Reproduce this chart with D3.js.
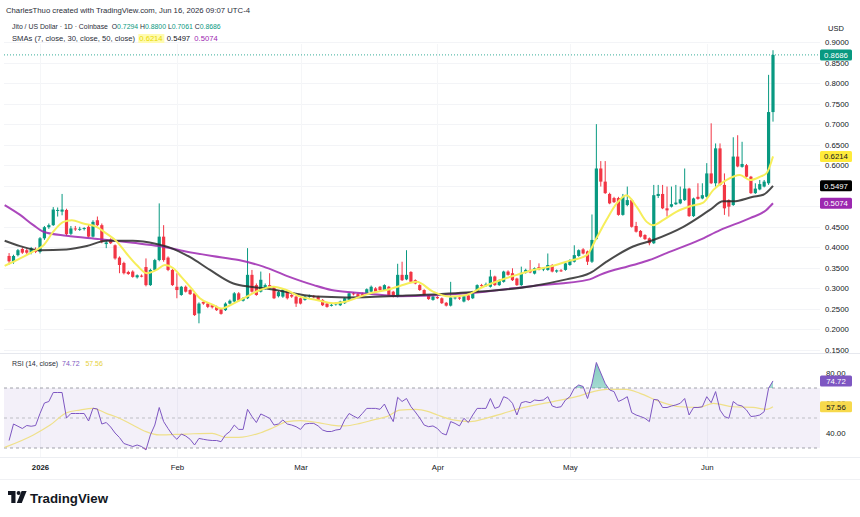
<!DOCTYPE html>
<html lang="en">
<meta charset="utf-8">
<head>
<script src="https://d3js.org/d3.v7.min.js"></script>
<style>
  body { margin: 0; background: #fff; }
  text { font-family: "Liberation Sans", Arial, sans-serif; }
</style>
</head>
<body>
<div id="chart"></div>
<script>

// JTO/USD daily bars. Day numbers count from 2026-01-01 (day 0); first bar is Dec 25 2025.
var firstBarDay = -7;

var opens = [
  0.379, 0.364, 0.381, 0.396, 0.393, 0.387, 0.395,
  0.389, 0.422, 0.449, 0.454, 0.490, 0.487, 0.491, 0.433, 0.446, 0.444,
  0.445, 0.450, 0.426, 0.466, 0.454, 0.408, 0.419, 0.405, 0.375, 0.362,
  0.340, 0.341, 0.327, 0.331, 0.352, 0.308, 0.345, 0.369, 0.426, 0.375,
  0.345, 0.304, 0.284, 0.304, 0.296, 0.288, 0.239, 0.267, 0.263, 0.259,
  0.255, 0.249, 0.247, 0.263, 0.268, 0.288, 0.270, 0.276, 0.333, 0.308,
  0.292, 0.300, 0.308, 0.304, 0.281, 0.280, 0.292, 0.284, 0.280, 0.276,
  0.272, 0.280, 0.281, 0.280, 0.272, 0.263, 0.259, 0.261, 0.259, 0.264,
  0.272, 0.288, 0.286, 0.286, 0.288, 0.292, 0.300, 0.304, 0.296, 0.304,
  0.292, 0.280, 0.333, 0.322, 0.340, 0.320, 0.308, 0.296, 0.282, 0.272,
  0.279, 0.276, 0.265, 0.258, 0.276, 0.278, 0.268, 0.283, 0.276, 0.292,
  0.308, 0.306, 0.304, 0.329, 0.308, 0.316, 0.341, 0.337, 0.324, 0.308,
  0.338, 0.345, 0.336, 0.352, 0.346, 0.345, 0.357, 0.341, 0.344, 0.345,
  0.357, 0.365, 0.379, 0.395, 0.390, 0.365, 0.420, 0.592, 0.560, 0.530,
  0.520, 0.520, 0.479, 0.503, 0.515, 0.452, 0.440, 0.430, 0.422, 0.410,
  0.525, 0.530, 0.495, 0.499, 0.505, 0.507, 0.515, 0.543, 0.476, 0.523,
  0.519, 0.523, 0.580, 0.556, 0.641, 0.552, 0.515, 0.503, 0.621, 0.596,
  0.600, 0.572, 0.532, 0.541, 0.548, 0.556, 0.7294
];
var highs = [
  0.386, 0.382, 0.396, 0.400, 0.397, 0.401, 0.400,
  0.425, 0.452, 0.458, 0.498, 0.497, 0.530, 0.494, 0.452, 0.452, 0.450,
  0.449, 0.455, 0.466, 0.475, 0.458, 0.416, 0.422, 0.407, 0.378, 0.365,
  0.343, 0.344, 0.334, 0.334, 0.373, 0.348, 0.372, 0.507, 0.454, 0.378,
  0.347, 0.337, 0.306, 0.307, 0.298, 0.290, 0.266, 0.270, 0.266, 0.261,
  0.258, 0.251, 0.266, 0.273, 0.291, 0.291, 0.279, 0.398, 0.345, 0.312,
  0.341, 0.312, 0.337, 0.306, 0.294, 0.300, 0.294, 0.286, 0.282, 0.278,
  0.283, 0.285, 0.284, 0.282, 0.274, 0.265, 0.263, 0.266, 0.270, 0.278,
  0.291, 0.291, 0.289, 0.290, 0.300, 0.307, 0.303, 0.306, 0.310, 0.306,
  0.294, 0.360, 0.365, 0.393, 0.342, 0.322, 0.310, 0.298, 0.284, 0.282,
  0.281, 0.278, 0.267, 0.316, 0.281, 0.280, 0.283, 0.285, 0.294, 0.310,
  0.311, 0.314, 0.345, 0.331, 0.322, 0.343, 0.344, 0.349, 0.326, 0.353,
  0.348, 0.369, 0.351, 0.361, 0.352, 0.385, 0.359, 0.346, 0.347, 0.363,
  0.371, 0.405, 0.395, 0.398, 0.392, 0.480, 0.700, 0.610, 0.610, 0.533,
  0.523, 0.523, 0.530, 0.548, 0.518, 0.462, 0.442, 0.432, 0.424, 0.552,
  0.552, 0.552, 0.548, 0.548, 0.552, 0.548, 0.592, 0.545, 0.521, 0.556,
  0.556, 0.605, 0.702, 0.653, 0.653, 0.580, 0.517, 0.668, 0.673, 0.657,
  0.603, 0.574, 0.556, 0.564, 0.564, 0.820, 0.8800
];
var lows = [
  0.358, 0.360, 0.378, 0.384, 0.384, 0.383, 0.386,
  0.385, 0.418, 0.445, 0.452, 0.475, 0.478, 0.428, 0.430, 0.440, 0.440,
  0.441, 0.424, 0.424, 0.452, 0.410, 0.398, 0.408, 0.370, 0.337, 0.334,
  0.333, 0.326, 0.324, 0.327, 0.305, 0.306, 0.343, 0.366, 0.365, 0.342,
  0.306, 0.276, 0.282, 0.290, 0.284, 0.233, 0.215, 0.260, 0.252, 0.251,
  0.245, 0.236, 0.245, 0.261, 0.266, 0.268, 0.268, 0.274, 0.290, 0.282,
  0.290, 0.297, 0.301, 0.274, 0.278, 0.277, 0.273, 0.277, 0.255, 0.261,
  0.270, 0.277, 0.276, 0.270, 0.257, 0.253, 0.256, 0.258, 0.257, 0.262,
  0.270, 0.283, 0.278, 0.278, 0.286, 0.290, 0.290, 0.294, 0.294, 0.282,
  0.278, 0.278, 0.318, 0.320, 0.314, 0.310, 0.294, 0.282, 0.272, 0.270,
  0.274, 0.262, 0.256, 0.256, 0.273, 0.272, 0.266, 0.270, 0.274, 0.290,
  0.304, 0.304, 0.302, 0.306, 0.306, 0.314, 0.331, 0.318, 0.306, 0.306,
  0.336, 0.337, 0.334, 0.344, 0.342, 0.343, 0.339, 0.338, 0.340, 0.343,
  0.355, 0.363, 0.377, 0.383, 0.357, 0.362, 0.418, 0.548, 0.530, 0.505,
  0.508, 0.477, 0.477, 0.500, 0.448, 0.436, 0.424, 0.418, 0.405, 0.408,
  0.520, 0.493, 0.475, 0.497, 0.503, 0.505, 0.513, 0.474, 0.474, 0.516,
  0.517, 0.521, 0.554, 0.548, 0.550, 0.479, 0.475, 0.501, 0.595, 0.594,
  0.570, 0.530, 0.530, 0.539, 0.546, 0.552, 0.7061
];
var closes = [
  0.366, 0.379, 0.393, 0.387, 0.387, 0.398, 0.389,
  0.422, 0.449, 0.454, 0.492, 0.491, 0.492, 0.432, 0.446, 0.444, 0.445,
  0.447, 0.426, 0.462, 0.454, 0.414, 0.412, 0.410, 0.373, 0.357, 0.337,
  0.335, 0.328, 0.332, 0.330, 0.308, 0.345, 0.369, 0.426, 0.369, 0.345,
  0.308, 0.296, 0.304, 0.292, 0.286, 0.235, 0.263, 0.263, 0.255, 0.254,
  0.247, 0.238, 0.263, 0.270, 0.288, 0.270, 0.276, 0.333, 0.292, 0.284,
  0.321, 0.308, 0.304, 0.276, 0.291, 0.297, 0.276, 0.280, 0.263, 0.263,
  0.280, 0.282, 0.279, 0.272, 0.259, 0.255, 0.260, 0.264, 0.268, 0.276,
  0.288, 0.286, 0.280, 0.280, 0.298, 0.304, 0.292, 0.296, 0.308, 0.284,
  0.280, 0.333, 0.320, 0.333, 0.316, 0.312, 0.296, 0.284, 0.274, 0.280,
  0.276, 0.264, 0.258, 0.278, 0.278, 0.275, 0.281, 0.272, 0.292, 0.308,
  0.306, 0.310, 0.329, 0.308, 0.320, 0.341, 0.333, 0.320, 0.308, 0.338,
  0.345, 0.339, 0.349, 0.346, 0.350, 0.357, 0.341, 0.344, 0.342, 0.361,
  0.369, 0.381, 0.393, 0.385, 0.365, 0.418, 0.592, 0.560, 0.532, 0.507,
  0.510, 0.479, 0.523, 0.515, 0.450, 0.438, 0.426, 0.420, 0.410, 0.527,
  0.530, 0.495, 0.490, 0.505, 0.509, 0.517, 0.543, 0.476, 0.519, 0.518,
  0.527, 0.580, 0.556, 0.641, 0.552, 0.495, 0.499, 0.621, 0.597, 0.603,
  0.572, 0.532, 0.543, 0.554, 0.560, 0.7294, 0.8686
];

// RSI(14) per bar, same order as the candles
var rsi = [
  35, 46, 44.5, 43, 45, 44.5, 45,
  53, 60, 61, 67, 67, 67, 50, 53, 53, 53,
  53, 48, 56.5, 56, 46, 47, 44, 40, 37, 33,
  32, 31, 32, 31, 28.7, 38.7, 45.3, 57, 47.6, 43,
  38.7, 35.8, 39.3, 38, 35.8, 32, 36.4, 35.8, 35.3, 35,
  35, 34.2, 38.7, 41, 45.3, 42.4, 42.4, 55.8, 51, 47,
  52.7, 51.3, 49.8, 45.3, 46, 48.7, 46, 45.3, 44.2, 42.4,
  46, 46.4, 46.4, 44.7, 42, 41, 41, 42, 42.4, 48.7,
  53, 51.3, 49.8, 53, 56.4, 56.4, 56.4, 55.8, 59.3, 53,
  47.6, 63.8, 61, 63, 57.6, 54, 50, 45.3, 44.2, 44.7,
  43, 39.8, 38.7, 47.6, 46.4, 44.7, 49.8, 47, 52, 56.4,
  56.4, 56.4, 63, 56.4, 57.5, 64.2, 63, 59.8, 52, 60.2,
  61, 60.2, 62, 61.6, 62, 64.2, 58, 57, 57.5, 62,
  64.2, 69.8, 72, 71, 63, 73, 87, 80, 73, 68.7,
  67.6, 61, 62.4, 64.2, 53.6, 52, 51, 49.8, 47.6, 62.4,
  62, 57, 57, 58, 58.7, 59.8, 63, 52, 57, 57,
  57.5, 64.2, 60.2, 67.6, 55.3, 51, 49.8, 61, 58.7, 58,
  55.3, 51, 51.3, 52, 54.2, 69.8, 74.72
];

// moving averages: [day, value]
var sma7 = [[-8,0.355],[-4.5,0.373],[-1.5,0.39],[0.8,0.405],[3,0.438],[5.3,0.462],[7.2,0.466],[9.8,0.458],
  [12.8,0.45],[15,0.434],[17.4,0.414],[19.6,0.385],[21.9,0.357],[24.2,0.337],[26.4,0.345],[28.3,0.357],
  [30.2,0.349],[32,0.328],[34.3,0.3],[36.2,0.276],[39.2,0.26],[41,0.251],[43.8,0.263],[46.8,0.28],
  [49.8,0.296],[52.8,0.304],[55.8,0.296],[58.9,0.28],[62.6,0.272],[66.4,0.264],[69.4,0.268],[72.5,0.28],
  [75.5,0.29],[78.5,0.296],[81.5,0.306],[85.3,0.316],[89,0.292],[92.8,0.28],[96.6,0.284],[100.4,0.304],
  [104.2,0.32],[108,0.333],[111.7,0.345],[115.5,0.353],[119.2,0.365],[123.8,0.381],[126,0.422],
  [128.3,0.467],[130.6,0.507],[132.8,0.527],[135.1,0.499],[137.4,0.462],[138.9,0.454],[141.2,0.467],
  [144.2,0.487],[147.2,0.5],[150.2,0.509],[152.5,0.54],[155.5,0.564],[158.5,0.576],[160.8,0.564],
  [163.1,0.572],[164.5,0.58],[166,0.6214]];
var sma30 = [[-8,0.416],[-4.5,0.403],[0,0.393],[6,0.395],[10.6,0.403],[15,0.416],[21,0.416],[26.4,0.408],
  [30,0.397],[34,0.376],[38.5,0.345],[43.8,0.312],[47.5,0.304],[51.3,0.3],[57.4,0.288],[62.6,0.28],
  [69.4,0.278],[81.5,0.282],[96.6,0.29],[111.7,0.306],[119.2,0.322],[124.5,0.337],[128.3,0.365],
  [134.3,0.402],[138.9,0.418],[145.7,0.45],[151.7,0.491],[154.7,0.512],[157,0.512],[161.5,0.523],
  [163.8,0.528],[166,0.5497]];
var sma50 = [[-8,0.503],[-4.5,0.479],[-1.5,0.454],[0.8,0.438],[6,0.428],[13.6,0.42],[21,0.411],[27,0.403],
  [33,0.39],[39,0.379],[45,0.369],[50.6,0.353],[56,0.33],[62,0.308],[66,0.296],[71,0.29],[75.5,0.286],
  [81.5,0.281],[96.6,0.288],[111.7,0.306],[124.5,0.322],[126.8,0.333],[134.3,0.357],[138,0.369],
  [141.9,0.386],[149.4,0.418],[154,0.442],[160.8,0.471],[164.5,0.491],[166,0.5074]];
var rsiMa = [[-8,30.4],[-1.5,38.7],[2.3,45.3],[6,53.5],[9,55.3],[12,56.4],[15,53.1],[18,49.8],[21,45.3],
  [24,40.9],[27,38.7],[33,39.3],[39,39.8],[42,37.1],[45,37.1],[50,40.2],[53,43.8],[56,47.6],[59,48.2],
  [63,46.9],[66,45.3],[69,44.7],[72.5,46.4],[75.5,48.7],[78.5,50.9],[81.5,55.3],[85,55.8],[88,54.2],
  [90,52],[93.6,48.7],[97.4,47.6],[101,49.8],[104.9,53.1],[108.7,56.4],[116.2,60.9],[121.5,64.2],
  [125.3,67.6],[128.3,69.1],[132.8,69.1],[135.9,66.4],[140.4,60.9],[144.9,57.5],[149.4,57.1],
  [152.5,59.8],[157,57.5],[161.5,57.1],[164.5,55.8],[166,57.56]];

// 0.50 and 0.55 sit under the SMA tags, so the reference shows no label there
var priceTicks = [0.15,0.20,0.25,0.30,0.35,0.40,0.45,0.60,0.65,0.70,0.75,0.80,0.85,0.90];
var gridTicks = [0.15,0.20,0.25,0.30,0.35,0.40,0.45,0.50,0.55,0.60,0.65,0.70,0.75,0.80,0.85,0.90];
var rsiTicks = [40, 60, 80];
var monthDays = [0, 31, 59, 90, 120, 151];
var monthLabels = ["2026", "Feb", "Mar", "Apr", "May", "Jun"];

var lastClose = 0.8686;
var lastSma = [0.6214, 0.5497, 0.5074];
var lastRsi = [74.72, 57.56];

var UP = "#089981", DOWN = "#f23645";

function day(i){ return new Date(Date.UTC(2026, 0, 1) + i * 864e5); }

var svg = d3.select("#chart").append("svg")
    .attr("width", 860).attr("height", 517)
    .style("display", "block");
svg.append("rect").attr("width", 860).attr("height", 517).attr("fill", "#fff");

var x = d3.scaleUtc().domain([day(0), day(166)]).range([40, 773]);
var y = d3.scaleLinear().domain([0.15, 0.90]).range([350, 42]);
var ry = d3.scaleLinear().domain([30, 70]).range([448, 388]);

var defs = svg.append("defs");
defs.append("clipPath").attr("id", "pricePane").append("rect")
    .attr("x", 4).attr("y", 44).attr("width", 816).attr("height", 308);
defs.append("clipPath").attr("id", "rsiPane").append("rect")
    .attr("x", 4).attr("y", 355).attr("width", 816).attr("height", 102);
defs.append("clipPath").attr("id", "overbought").append("rect")
    .attr("x", 4).attr("y", 355).attr("width", 816).attr("height", ry(70) - 355);
defs.append("clipPath").attr("id", "oversold").append("rect")
    .attr("x", 4).attr("y", ry(30)).attr("width", 816).attr("height", 457 - ry(30));
var gUp = defs.append("linearGradient").attr("id", "obFill").attr("x1", 0).attr("x2", 0).attr("y1", 0).attr("y2", 1);
gUp.append("stop").attr("offset", "0%").attr("stop-color", "#089981").attr("stop-opacity", 0.5);
gUp.append("stop").attr("offset", "100%").attr("stop-color", "#089981").attr("stop-opacity", 0.05);
var gDn = defs.append("linearGradient").attr("id", "osFill").attr("x1", 0).attr("x2", 0).attr("y1", 0).attr("y2", 1);
gDn.append("stop").attr("offset", "0%").attr("stop-color", "#f23645").attr("stop-opacity", 0.05);
gDn.append("stop").attr("offset", "100%").attr("stop-color", "#f23645").attr("stop-opacity", 0.5);

// grid
svg.append("g").selectAll("line").data(gridTicks).join("line")
    .attr("x1", 4).attr("x2", 820)
    .attr("y1", d => Math.round(y(d)) + 0.5).attr("y2", d => Math.round(y(d)) + 0.5)
    .attr("stroke", "#f3f4f7");
svg.append("g").selectAll("line").data(monthDays).join("line")
    .attr("x1", d => Math.round(x(day(d))) + 0.5).attr("x2", d => Math.round(x(day(d))) + 0.5)
    .attr("y1", 44).attr("y2", 457)
    .attr("stroke", "#f5f6f8");

// pane separators
svg.append("line").attr("x1", 0).attr("x2", 860).attr("y1", 353.5).attr("y2", 353.5).attr("stroke", "#e6e8ee");
svg.append("line").attr("x1", 0).attr("x2", 860).attr("y1", 457.5).attr("y2", 457.5).attr("stroke", "#eceef2");
svg.append("line").attr("x1", 0).attr("x2", 860).attr("y1", 479.5).attr("y2", 479.5).attr("stroke", "#f0f1f4");

// ---- price pane ----
var pane = svg.append("g").attr("clip-path", "url(#pricePane)");
var bars = closes.map(function(c, k){
  return { t: day(firstBarDay + k), o: opens[k], h: highs[k], l: lows[k], c: c };
});

pane.append("line")
    .attr("x1", 4).attr("x2", 820)
    .attr("y1", y(lastClose)).attr("y2", y(lastClose))
    .attr("stroke", UP).attr("stroke-opacity", 0.8).attr("stroke-dasharray", "1,2");

pane.append("g").selectAll("line").data(bars).join("line")
    .attr("x1", d => x(d.t)).attr("x2", d => x(d.t))
    .attr("y1", d => y(d.h)).attr("y2", d => y(d.l))
    .attr("stroke", d => d.c >= d.o ? UP : DOWN)
    .attr("stroke-width", 1);
pane.append("g").selectAll("rect").data(bars).join("rect")
    .attr("x", d => x(d.t) - 1.6)
    .attr("width", 3.2)
    .attr("y", d => y(Math.max(d.o, d.c)))
    .attr("height", d => Math.max(1, Math.abs(y(d.o) - y(d.c))))
    .attr("fill", d => d.c >= d.o ? UP : DOWN);

var maLine = d3.line().x(d => x(day(d[0]))).y(d => y(d[1])).curve(d3.curveMonotoneX);
pane.append("path").datum(sma50).attr("d", maLine)
    .attr("fill", "none").attr("stroke", "#9c27b0").attr("stroke-width", 2).attr("stroke-opacity", 0.85);
pane.append("path").datum(sma30).attr("d", maLine)
    .attr("fill", "none").attr("stroke", "#2a2a2a").attr("stroke-width", 2).attr("stroke-opacity", 0.85);
pane.append("path").datum(sma7).attr("d", maLine)
    .attr("fill", "none").attr("stroke", "#f6ee5a").attr("stroke-width", 2);

// ---- RSI pane ----
var rp = svg.append("g").attr("clip-path", "url(#rsiPane)");
rp.append("rect").attr("x", 4).attr("width", 816)
    .attr("y", ry(70)).attr("height", ry(30) - ry(70))
    .attr("fill", "#7e57c2").attr("fill-opacity", 0.09);
rp.selectAll("line.lvl").data([70, 50, 30]).join("line")
    .attr("x1", 4).attr("x2", 820)
    .attr("y1", d => ry(d)).attr("y2", d => ry(d))
    .attr("stroke", "#8a8d96").attr("stroke-opacity", d => d === 50 ? 0.5 : 0.8)
    .attr("stroke-dasharray", "3,3");

var rsiPts = rsi.map((v, k) => [firstBarDay + k, v]);
rp.append("path").datum(rsiPts)
    .attr("clip-path", "url(#overbought)")
    .attr("d", d3.area().x(d => x(day(d[0]))).y0(ry(70)).y1(d => ry(d[1])))
    .attr("fill", "url(#obFill)");
rp.append("path").datum(rsiPts)
    .attr("clip-path", "url(#oversold)")
    .attr("d", d3.area().x(d => x(day(d[0]))).y0(ry(30)).y1(d => ry(d[1])))
    .attr("fill", "url(#osFill)");
rp.append("path").datum(rsiMa)
    .attr("d", d3.line().x(d => x(day(d[0]))).y(d => ry(d[1])).curve(d3.curveMonotoneX))
    .attr("fill", "none").attr("stroke", "#efe08a").attr("stroke-width", 1.2);
rp.append("path").datum(rsiPts)
    .attr("d", d3.line().x(d => x(day(d[0]))).y(d => ry(d[1])))
    .attr("fill", "none").attr("stroke", "#7e57c2").attr("stroke-width", 1);

// ---- axes ----
function styleAxis(g, size){
  g.select(".domain").remove();
  g.selectAll("text").attr("fill", "#131722").style("font-size", size + "px");
}
svg.append("g").attr("transform", "translate(825,0)")
    .call(d3.axisRight(y).tickValues(priceTicks).tickFormat(d3.format(".4f")).tickSize(0).tickPadding(0))
    .call(g => styleAxis(g, 7.8));
svg.append("g").attr("transform", "translate(825,0)")
    .call(d3.axisRight(ry).tickValues(rsiTicks).tickFormat(d3.format(".2f")).tickSize(0).tickPadding(1))
    .call(g => styleAxis(g, 7.8));
svg.append("g").attr("transform", "translate(0,461)")
    .call(d3.axisBottom(x).tickValues(monthDays.map(day)).tickFormat((d, k) => monthLabels[k]).tickSize(0).tickPadding(3))
    .call(g => styleAxis(g, 7.8))
    .call(g => g.selectAll("text").filter((d, k) => k === 0).attr("font-weight", "bold"));

svg.append("text").attr("x", 836).attr("y", 31).attr("text-anchor", "middle")
    .attr("fill", "#131722").style("font-size", "7.5px").text("USD");

// value tags on the price scale
function tag(yy, label, bg, fg){
  var g = svg.append("g").attr("transform", "translate(820," + yy + ")");
  g.append("rect").attr("x", 0).attr("y", -5.5).attr("width", 32).attr("height", 11).attr("rx", 1.5).attr("fill", bg);
  g.append("text").attr("x", 16).attr("y", 3).attr("text-anchor", "middle")
      .attr("fill", fg).style("font-size", "7.8px").text(label);
}
tag(y(lastClose), d3.format(".4f")(lastClose), UP, "#fff");
tag(y(lastSma[0]), d3.format(".4f")(lastSma[0]), "#ffeb3b", "#131722");
tag(y(lastSma[1]), d3.format(".4f")(lastSma[1]), "#000", "#fff");
tag(y(lastSma[2]), d3.format(".4f")(lastSma[2]), "#9c27b0", "#fff");
tag(ry(lastRsi[0]), d3.format(".2f")(lastRsi[0]), "#7e57c2", "#fff");
tag(ry(lastRsi[1]), d3.format(".2f")(lastRsi[1]), "#f7d94c", "#131722");

// ---- header / legends: one text per line, font size fitted to the target width ----
var INK = "#2a2e39";
function legend(xx, yy, width, parts){
  var t = svg.append("text").attr("x", xx).attr("y", yy)
      .style("font-size", "10px").attr("xml:space", "preserve");
  parts.forEach(function(p){ t.append("tspan").attr("fill", p[1]).text(p[0]); });
  var w = t.node().getComputedTextLength();
  t.style("font-size", (10 * width / w).toFixed(2) + "px");
  return t;
}
var f4 = d3.format(".4f"), f2 = d3.format(".2f");
legend(6, 13, 244, [["CharlesThuo created with TradingView.com, Jun 16, 2026 09:07 UTC-4", INK]]);

var last = closes.length - 1;
legend(12, 29, 209, [
  ["Jito / US Dollar \u00b7 1D \u00b7 Coinbase  O", INK], [f4(opens[last]), UP],
  [" H", INK], [f4(highs[last]), UP],
  [" L", INK], [f4(lows[last]), UP],
  [" C", INK], [f4(closes[last]), UP]
]);

var hl = svg.append("rect").attr("y", 34).attr("height", 9).attr("fill", "#fffbb0");
var smaLegend = legend(12, 41, 206, [
  ["SMAs (7, close, 30, close, 50, close)  ", INK], [f4(lastSma[0]), "#e8d800"],
  ["  ", INK], [f4(lastSma[1]), "#131722"],
  ["  ", INK], [f4(lastSma[2]), "#9c27b0"]
]);
var yb = smaLegend.selectAll("tspan").nodes()[1].getBBox();
hl.attr("x", yb.x - 1).attr("width", yb.width + 2);

legend(12, 366, 91, [
  ["RSI (14, close)  ", INK], [f2(lastRsi[0]), "#7e57c2"],
  ["   ", INK], [f2(lastRsi[1]), "#e6cf3a"]
]);

// TradingView mark
var logo = svg.append("g").attr("fill", "#131722");
logo.append("path").attr("d", "M8,491 H15.5 V503 H11.3 V495 H8 Z");
logo.append("circle").attr("cx", 18.6).attr("cy", 493.1).attr("r", 2);
logo.append("path").attr("d", "M21.6,491 H26.6 L21.8,503 H16.8 Z");
svg.append("text").attr("x", 30).attr("y", 503).attr("fill", "#131722")
    .attr("font-weight", "bold").style("font-size", "13.5px")
    .attr("textLength", 78).attr("lengthAdjust", "spacingAndGlyphs")
    .text("TradingView");

</script>
</body>
</html>
